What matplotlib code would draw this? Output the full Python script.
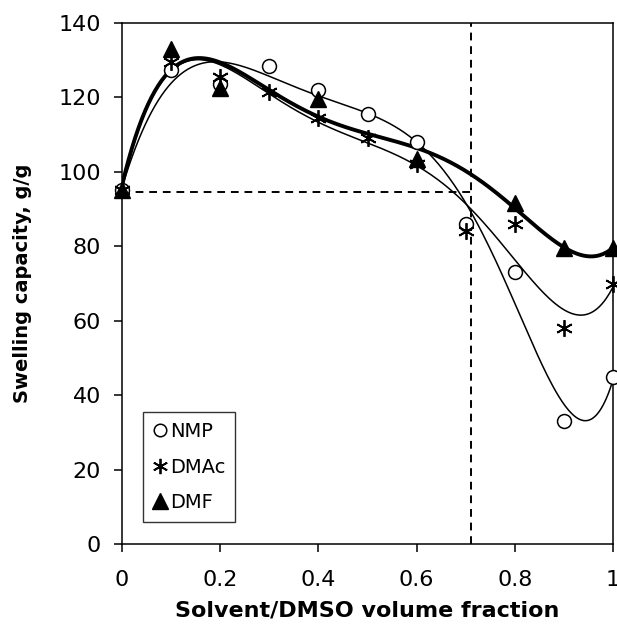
import numpy as np
import matplotlib
matplotlib.use("Agg")
import matplotlib.pyplot as plt
from matplotlib.lines import Line2D

# Data
nmp_x = [0.0, 0.1, 0.2, 0.3, 0.4, 0.5, 0.6, 0.7, 0.8, 0.9, 1.0]
nmp_y = [95, 127.5, 123.5, 128.5, 122, 115.5, 108, 86, 73, 33, 45]
dmac_x = [0.0, 0.1, 0.2, 0.3, 0.4, 0.5, 0.6, 0.7, 0.8, 0.9, 1.0]
dmac_y = [95, 129.5, 125.5, 121.5, 114.5, 109, 102, 84, 86, 58, 70]
dmf_x = [0.0, 0.1, 0.2, 0.4, 0.6, 0.8, 0.9, 1.0]
dmf_y = [95, 133, 122.5, 119.5, 103.5, 91.5, 79.5, 79.5]
ref_y = 94.5
ref_x = 0.71
xticks = [0, 0.2, 0.4, 0.6, 0.8, 1]
xticklabels = ["0", "0.2", "0.4", "0.6", "0.8", "1"]
yticks = [0, 20, 40, 60, 80, 100, 120, 140]

plt.rcParams['font.family'] = ['DejaVu Sans']

fig = plt.figure(figsize=(6.17, 6.34), dpi=100)
ax = fig.add_axes([122/617, (634-544)/634, (613-122)/617, (544-23)/634])

xs = np.linspace(0, 1, 300)
def trend(x, y, deg=6):
    p = np.polyfit(x, y, deg)
    return np.polyval(p, xs)

ax.plot(xs, trend(nmp_x, nmp_y), color='black', lw=1.1, zorder=2)
ax.plot(xs, trend(dmac_x, dmac_y), color='black', lw=1.1, zorder=2)
ax.plot(xs, trend(dmf_x, dmf_y, 5), color='black', lw=2.8, zorder=2)

ax.plot([0, ref_x], [ref_y, ref_y], color='black', lw=1.4, ls=(0, (4, 3)), zorder=1)
ax.plot([ref_x, ref_x], [0, 140], color='black', lw=1.4, ls=(0, (4, 3)), zorder=1)

ax.plot(nmp_x, nmp_y, ls='none', marker='o', ms=10, mfc='white', mec='black', mew=1.1, zorder=3, clip_on=False)
ax.plot(dmac_x, dmac_y, ls='none', marker=(6, 2, 0), ms=12, mec='black', mew=1.3, zorder=4, clip_on=False)
ax.plot(dmf_x, dmf_y, ls='none', marker='^', ms=12, mfc='black', mec='black', zorder=5, clip_on=False)

ax.set_xlim(0, 1)
ax.set_ylim(0, 140)
ax.set_xticks(xticks)
ax.set_xticklabels(xticklabels)
ax.set_yticks(yticks)
ax.tick_params(direction='out', length=6, width=1.1, labelsize=16, pad=9)
ax.tick_params(axis='x', pad=13)
for s in ax.spines.values():
    s.set_linewidth(1.1)

ax.set_xlabel("Solvent/DMSO volume fraction", fontsize=16, fontweight='bold', labelpad=7)
ax.set_ylabel("Swelling capacity, g/g", fontsize=14, fontweight='bold', labelpad=19)

handles = [
    Line2D([], [], ls='none', marker='o', ms=9, mfc='white', mec='black', mew=1.1),
    Line2D([], [], ls='none', marker=(6, 2, 0), ms=11, mec='black', mew=1.3),
    Line2D([], [], ls='none', marker='^', ms=11, mfc='black', mec='black'),
]
leg = ax.legend(handles, ["NMP", "DMAc", "DMF"], loc='lower left', bbox_to_anchor=(0.035, 0.035),
                fontsize=14, frameon=True, fancybox=False, edgecolor='black',
                handlelength=0.7, handletextpad=0.2, borderpad=0.5, labelspacing=0.85,
                borderaxespad=0.2)
leg.get_frame().set_linewidth(1.0)

fig.savefig("out.png", dpi=100)
